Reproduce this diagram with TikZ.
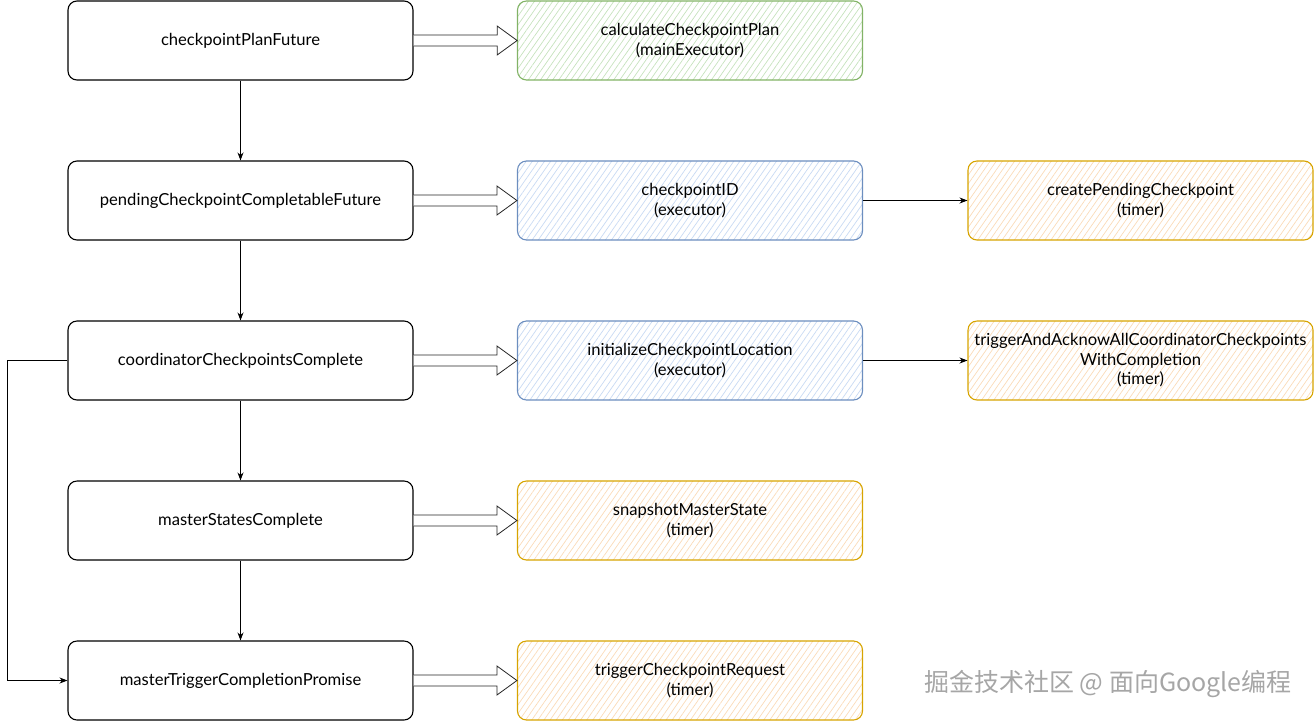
\documentclass[tikz,border=0pt]{standalone}
\usepackage{fontspec}
\setmainfont{Lato}
\newfontfamily\cjk{Noto Sans CJK SC}
\usepackage{tikz}
\usetikzlibrary{arrows.meta, positioning, calc, patterns.meta}

% 空心粗箭头(左列 -> 中列)
\newcommand{\fatarrow}[2]{%
    \draw[fat] ($(#1.east)+(0,-5.5)$) -- ($(#2.west)+(-20,-5.5)$) -- ($(#2.west)+(-20,-14.5)$)
        -- (#2.west) -- ($(#2.west)+(-20,14.5)$) -- ($(#2.west)+(-20,5.5)$) -- ($(#1.east)+(0,5.5)$);}

\begin{document}
\begin{tikzpicture}[
    x=1pt, y=-1pt,
    >={Stealth[length=8pt, width=6pt]}, % 实心箭头
    font=\fontsize{16.6}{19.5}\selectfont,
    future/.style={draw=black, line width=1.1pt, rounded corners=9pt, minimum width=345pt, minimum height=79pt, fill=white}, % 左列:future
    task/.style={draw=#1, line width=1.1pt, rounded corners=9pt, minimum width=345pt, minimum height=79pt, align=center, inner sep=2pt}, % 中/右列:任务
    green/.style={task=cGreenD, pattern={Lines[angle=55, distance=5pt, line width=0.7pt]}, pattern color=cGreenL},
    blue/.style={task=cBlueD, pattern={Lines[angle=55, distance=5pt, line width=0.7pt]}, pattern color=cBlueL},
    orange/.style={task=cOrangeD, pattern={Lines[angle=55, distance=5pt, line width=0.7pt]}, pattern color=cOrangeL},
    link/.style={->, black, line width=0.8pt}, % 普通连线
    fat/.style={draw=black!85, line width=0.8pt, fill=white} % 空心箭头
]
    \definecolor{cGreenD}{HTML}{82B366} \definecolor{cGreenL}{HTML}{C6E2BD}
    \definecolor{cBlueD}{HTML}{6C8EBF}  \definecolor{cBlueL}{HTML}{C8DAF3}
    \definecolor{cOrangeD}{HTML}{D7A400} \definecolor{cOrangeL}{HTML}{FADBB8}
    \useasboundingbox (0,0) rectangle (1314,721);

    % 1. 左列
    \node[future] (plan)    at (240.5,40.5)  {checkpointPlanFuture};
    \node[future] (pending) at (240.5,200.5) {pendingCheckpointCompletableFuture};
    \node[future] (coord)   at (240.5,360.5) {coordinatorCheckpointsComplete};
    \node[future] (master)  at (240.5,520.5) {masterStatesComplete};
    \node[future] (trigger) at (240.5,680.5) {masterTriggerCompletionPromise};

    % 2. 中列
    \node[green]  (calc)    at (690,40.5)  {calculateCheckpointPlan\\(mainExecutor)};
    \node[blue]   (ckid)    at (690,200.5) {checkpointID\\(executor)};
    \node[blue]   (initloc) at (690,360.5) {initializeCheckpointLocation\\(executor)};
    \node[orange] (snap)    at (690,520.5) {snapshotMasterState\\(timer)};
    \node[orange] (trigreq) at (690,680.5) {triggerCheckpointRequest\\(timer)};

    % 3. 右列
    \node[orange] (createpc) at (1140.5,200.5) {createPendingCheckpoint\\(timer)};
    \node[orange] (trigack)  at (1140.5,360.5) {triggerAndAcknowAllCoordinatorCheckpoints\\WithCompletion\\(timer)};

    % 4. 连线
    \draw[link] (plan) -- (pending);
    \draw[link] (pending) -- (coord);
    \draw[link] (coord) -- (master);
    \draw[link] (master) -- (trigger);
    \draw[link] (coord.west) -- ++(-60,0) |- (trigger.west);
    \draw[link] (ckid) -- (createpc);
    \draw[link] (initloc) -- (trigack);

    \fatarrow{plan}{calc}
    \fatarrow{pending}{ckid}
    \fatarrow{coord}{initloc}
    \fatarrow{master}{snap}
    \fatarrow{trigger}{trigreq}

    % 5. 水印
    \node[text=black!35, font=\cjk\fontsize{25}{28}\selectfont] (mark) at (1108,684) {掘金技术社区 @ 面向Google编程};
\end{tikzpicture}
\end{document}
